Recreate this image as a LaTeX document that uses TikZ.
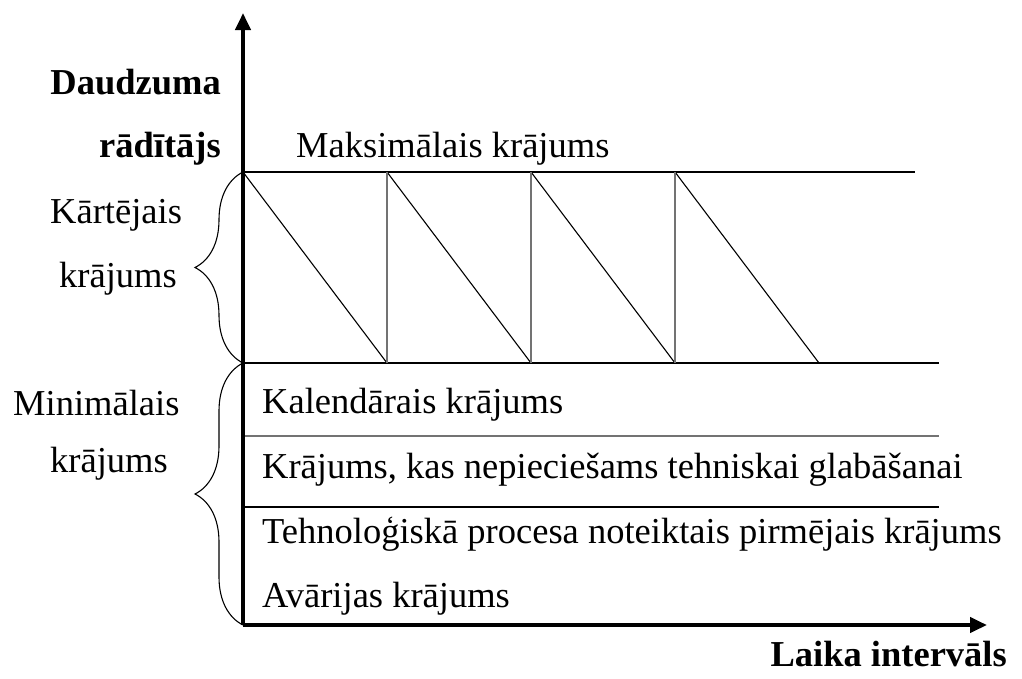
\documentclass[tikz,border=0pt]{standalone}
\usepackage{fontspec}
\setmainfont{Liberation Serif}
\usetikzlibrary{arrows.meta,decorations.pathreplacing}

\begin{document}
\begin{tikzpicture}[
    x=1pt, y=-1pt,
    axis/.style={line width=4pt, -{Triangle[length=17pt,width=15pt]}},
    level/.style={line width=1.3pt},
    refill/.style={line width=1.3pt, black!55},
    usage/.style={line width=1.1pt},
    bracket/.style={line width=1.1pt, decorate, decoration={brace, amplitude=48pt}},
    label/.style={font=\fontsize{36.5}{44}\selectfont, inner sep=0pt},
    title/.style={font=\fontsize{36.5}{44}\selectfont\bfseries, inner sep=0pt}
]
    \useasboundingbox (0,0) rectangle (1022,678);

    % levels
    \coordinate (maxL) at (243,172);
    \coordinate (maxR) at (915,172);
    \coordinate (minL) at (243,363);
    \coordinate (minR) at (939,363);
    \coordinate (calL) at (243,436);
    \coordinate (calR) at (939,436);
    \coordinate (techL) at (243,507);
    \coordinate (techR) at (939,507);

    \draw[level] (maxL) -- (maxR);
    \draw[level] (minL) -- (minR);
    \draw[refill] (calL) -- (calR);
    \draw[level] (techL) -- (techR);

    % usage and refill
    \foreach \x in {243,387,531,675}
        \draw[usage] (\x,172) -- (\x+144,363);
    \foreach \x in {387,531,675}
        \draw[refill] (\x,363) -- (\x,172);

    % axes
    \coordinate (origin) at (243,625);
    \coordinate (ytip) at (243,13);
    \coordinate (xtip) at (987,625);
    \draw[axis] (origin) -- (ytip);
    \draw[axis] (origin) -- (xtip);

    % braces
    \draw[bracket] (minL) -- (maxL);
    \draw[bracket] (origin) -- (minL);

    \node[title, anchor=base east] (qty) at (221,94) {Daudzuma};
    \node[title, anchor=base east] (qtyb) at (221,157) {rādītājs};
    \node[title, anchor=base east] (time) at (1007,666) {Laika intervāls};
    \node[label, anchor=base west] (maxtxt) at (296,157) {Maksimālais krājums};
    \node[label, anchor=base west] (cur) at (50,223) {Kārtējais};
    \node[label, anchor=base west] (curb) at (59,287) {krājums};
    \node[label, anchor=base west] (mini) at (13,415) {Minimālais};
    \node[label, anchor=base west] (minib) at (50,472) {krājums};
    \node[label, anchor=base west] (cal) at (262,413) {Kalendārais krājums};
    \node[label, anchor=base west] (store) at (262,478) {Krājums, kas nepieciešams tehniskai glabāšanai};
    \node[label, anchor=base west] (tech) at (262,543) {Tehnoloģiskā procesa noteiktais pirmējais krājums};
    \node[label, anchor=base west] (emerg) at (262,607) {Avārijas krājums};
\end{tikzpicture}
\end{document}
